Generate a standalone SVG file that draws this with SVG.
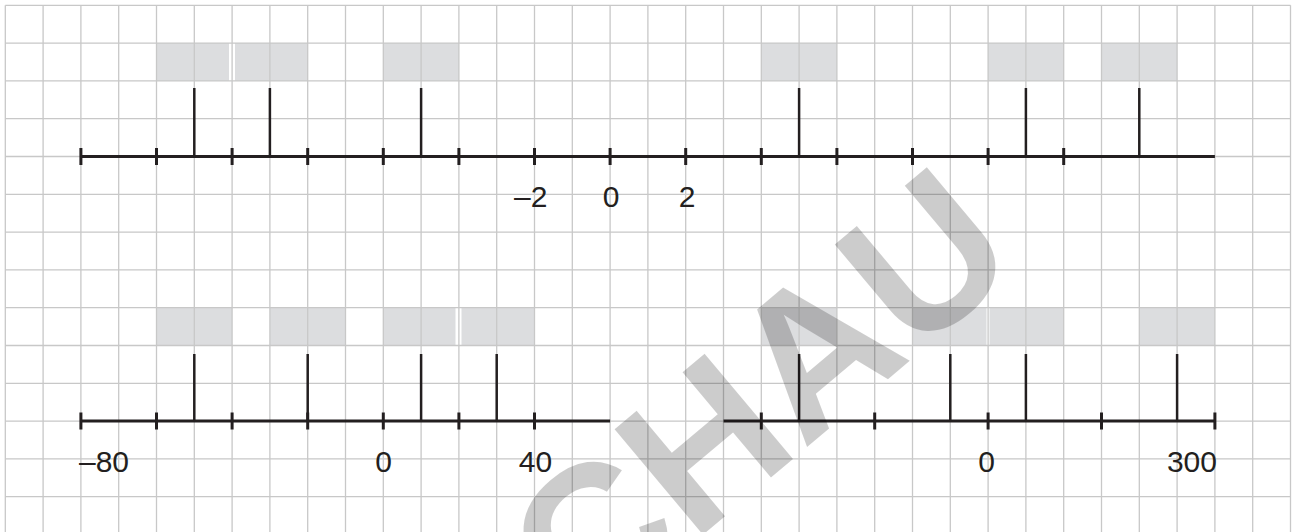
<svg xmlns="http://www.w3.org/2000/svg" width="1295" height="532" viewBox="0 0 1295 532">
<style>
.grid{stroke:#c8c8c8;stroke-width:1.3;fill:none}
.box{fill:#dcdddf}
.axis{stroke:#231f20;stroke-width:3;fill:none}
.tick{stroke:#231f20;stroke-width:3;fill:none}
.tall{stroke:#231f20;stroke-width:2.5;fill:none}
.lbl{font-family:"Liberation Sans",Arial,sans-serif;font-size:30px;fill:#231f20}
.wm{font-family:"Liberation Sans",Arial,sans-serif;font-weight:bold;font-size:200px;fill:#000;fill-opacity:0.2}
</style>
<rect x="0" y="0" width="1295" height="532" fill="#ffffff"/>
<g id="boxes">
<rect class="box" x="156.5" y="43.1" width="72.5" height="37.8"/>
<rect class="box" x="235" y="43.1" width="72.7" height="37.8"/>
<rect class="box" x="383.3" y="43.1" width="75.6" height="37.8"/>
<rect class="box" x="761.3" y="43.1" width="75.6" height="37.8"/>
<rect class="box" x="988.1" y="43.1" width="75.6" height="37.8"/>
<rect class="box" x="1101.5" y="43.1" width="75.6" height="37.8"/>
<rect class="box" x="156.5" y="307.7" width="75.6" height="37.8"/>
<rect class="box" x="269.9" y="307.7" width="75.6" height="37.8"/>
<rect class="box" x="383.3" y="307.7" width="72.2" height="37.8"/>
<rect class="box" x="461.5" y="307.7" width="73" height="37.8"/>
<rect class="box" x="761.3" y="307.7" width="75.6" height="37.8"/>
<rect class="box" x="912.5" y="307.7" width="74" height="37.8"/>
<rect class="box" x="989.5" y="307.7" width="74.2" height="37.8"/>
<rect class="box" x="1139.3" y="307.7" width="75.6" height="37.8"/>
</g>
<g id="grid">
<path class="grid" d="M5.3 5.3V532M43.1 5.3V532M80.9 5.3V532M118.7 5.3V532M156.5 5.3V532M194.3 5.3V532M232.1 5.3V532M269.9 5.3V532M307.7 5.3V532M345.5 5.3V532M383.3 5.3V532M421.1 5.3V532M458.9 5.3V532M496.7 5.3V532M534.5 5.3V532M572.3 5.3V532M610.1 5.3V532M647.9 5.3V532M685.7 5.3V532M723.5 5.3V532M761.3 5.3V532M799.1 5.3V532M836.9 5.3V532M874.7 5.3V532M912.5 5.3V532M950.3 5.3V532M988.1 5.3V532M1025.9 5.3V532M1063.7 5.3V532M1101.5 5.3V532M1139.3 5.3V532M1177.1 5.3V532M1214.9 5.3V532M1252.7 5.3V532M1290.5 5.3V532"/>
<path class="grid" d="M5.3 5.3H1290.5M5.3 43.1H1290.5M5.3 80.9H1290.5M5.3 118.7H1290.5M5.3 156.5H1290.5M5.3 194.3H1290.5M5.3 232.1H1290.5M5.3 269.9H1290.5M5.3 307.7H1290.5M5.3 345.5H1290.5M5.3 383.3H1290.5M5.3 421.1H1290.5M5.3 458.9H1290.5M5.3 496.7H1290.5"/>
</g>
<g id="top-number-line">
<path class="axis" d="M80.9 156.5H1214.9"/>
<path class="tick" d="M80.9 148V165M156.5 148V165M232.1 148V165M307.7 148V165M383.3 148V165M458.9 148V165M534.5 148V165M610.1 148V165M685.7 148V165M761.3 148V165M836.9 148V165M912.5 148V165M988.1 148V165M1063.7 148V165"/>
<path class="tall" d="M194.3 88V156.5M269.9 88V156.5M421.1 88V156.5M799.1 88V156.5M1025.9 88V156.5M1139.3 88V156.5"/>
<text class="lbl" x="514" y="206.5">–2</text>
<text class="lbl" x="611" y="206.5" text-anchor="middle">0</text>
<text class="lbl" x="687" y="206.5" text-anchor="middle">2</text>
</g>
<g id="bottom-number-line">
<path class="axis" d="M80.9 421.1H610.1M723.5 421.1H1214.9"/>
<path class="tick" d="M80.9 412.6V429.6M156.5 412.6V429.6M232.1 412.6V429.6M307.7 412.6V429.6M383.3 412.6V429.6M458.9 412.6V429.6M534.5 412.6V429.6M761.3 412.6V429.6M874.7 412.6V429.6M988.1 412.6V429.6M1101.5 412.6V429.6M1214.9 412.6V429.6"/>
<path class="tall" d="M194.3 354V421.1M307.7 354V421.1M421.1 354V421.1M496.7 354V421.1M799.1 354V421.1M950.3 354V421.1M1025.9 354V421.1M1177.1 354V421.1"/>
<text class="lbl" x="79" y="471.5">–80</text>
<text class="lbl" x="383.5" y="471.5" text-anchor="middle">0</text>
<text class="lbl" x="535.5" y="471.5" text-anchor="middle">40</text>
<text class="lbl" x="986.5" y="471.5" text-anchor="middle">0</text>
<text class="lbl" x="1217" y="471.5" text-anchor="end">300</text>
</g>
<g id="connectors"></g>
<g id="watermark">
<text class="wm" transform="translate(582,636) rotate(-40)">CHAU</text>
</g>
</svg>
